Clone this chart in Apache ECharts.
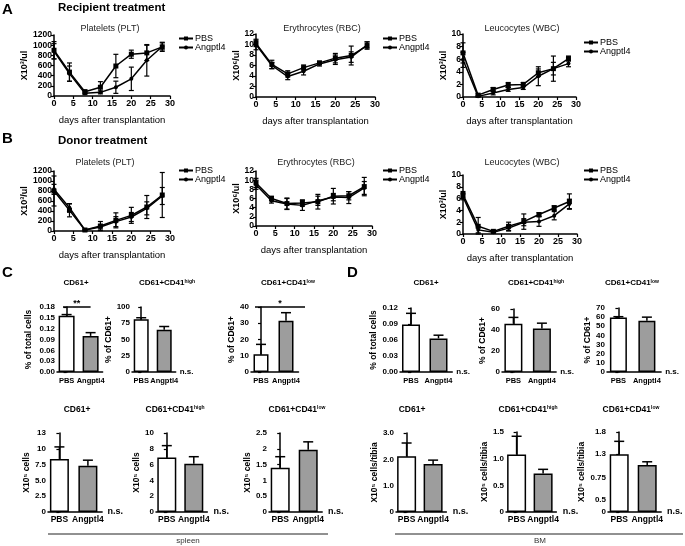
<!DOCTYPE html>
<html>
<head>
<meta charset="utf-8">
<script src="https://cdn.jsdelivr.net/npm/echarts@6/dist/echarts.min.js"></script>
<style>
  html, body { margin: 0; background: #fff; }
  #chart { width: 685px; height: 546px; }
</style>
</head>
<body>
<div id="chart"></div>
<script>
  // days after transplantation
  const days = [0, 4, 8, 12, 16, 20, 24, 28];

  // A - recipient treatment (mean, sem)
  const recPltPbs = [900, 470, 85, 172, 590, 822, 848, 967];
  const recPltPbsSem = [170, 180, 30, 110, 230, 80, 150, 90];
  const recPltAng = [880, 440, 52, 72, 172, 338, 702, 975];
  const recPltAngSem = [150, 150, 25, 30, 120, 230, 310, 70];
  const recRbcPbs = [10.2, 6.2, 4.4, 5.6, 6.5, 7.4, 7.9, 9.8];
  const recRbcPbsSem = [0.6, 0.8, 0.6, 0.5, 0.3, 0.9, 1.8, 0.7];
  const recRbcAng = [10.0, 6.0, 3.9, 4.9, 6.3, 7.1, 7.6, 9.9];
  const recRbcAngSem = [1.0, 0.6, 0.6, 0.7, 0.4, 0.9, 1.0, 0.6];
  const recWbcPbs = [7.0, 0.3, 1.2, 1.9, 2.0, 3.85, 4.5, 6.1];
  const recWbcPbsSem = [1.6, 0.2, 0.3, 0.4, 0.3, 0.6, 2.0, 0.4];
  const recWbcAng = [5.9, 0.1, 0.64, 1.2, 1.5, 3.3, 4.5, 5.3];
  const recWbcAngSem = [1.2, 0.1, 0.3, 0.3, 0.3, 1.5, 1.0, 0.5];

  // B - donor treatment
  const donPltPbs = [800, 413, 20, 100, 213, 313, 480, 720];
  const donPltPbsSem = [300, 130, 15, 90, 150, 160, 230, 450];
  const donPltAng = [833, 467, 20, 80, 187, 280, 453, 700];
  const donPltAngSem = [100, 80, 15, 40, 100, 90, 130, 170];
  const donRbcPbs = [9.4, 6.0, 4.9, 5.0, 5.3, 6.5, 6.6, 8.6];
  const donRbcPbsSem = [1.0, 0.5, 1.2, 0.7, 1.6, 1.7, 0.9, 2.0];
  const donRbcAng = [9.0, 5.5, 4.8, 4.5, 5.5, 6.3, 6.2, 8.3];
  const donRbcAngSem = [1.0, 0.5, 1.2, 1.1, 1.0, 0.8, 1.3, 1.4];
  const donWbcPbs = [6.7, 1.3, 0.45, 1.3, 2.1, 3.3, 4.4, 5.5];
  const donWbcPbsSem = [0.5, 1.5, 0.1, 0.7, 1.3, 0.3, 0.4, 1.3];
  const donWbcAng = [6.3, 0.7, 0.3, 1.0, 2.0, 2.1, 3.1, 5.1];
  const donWbcAngSem = [0.5, 0.5, 0.1, 0.5, 0.6, 0.8, 0.7, 0.8];

  // C / D bar charts: [PBS, Angptl4]
  const barCats = ['PBS', 'Angptl4'];
  const cCd61Pct = [0.156, 0.100], cCd61PctSem = [0.003, 0.009];
  const cHighPct = [81, 65], cHighPctSem = [2.5, 5];
  const cLowPct = [11, 31.5], cLowPctSem = [6, 5];
  const dCd61Pct = [0.089, 0.063], dCd61PctSem = [0.021, 0.006];
  const dHighPct = [46, 41.5], dHighPctSem = [6, 5];
  const dLowPct = [59.5, 56], dLowPctSem = [1, 4];
  const cCd61Num = [8.4, 7.3], cCd61NumSem = [1.9, 0.9];
  const cHighNum = [6.9, 6.1], cHighNumSem = [1.5, 0.9];
  const cLowNum = [1.4, 1.97], cLowNumSem = [0.35, 0.25];
  const dCd61Num = [2.12, 1.82], dCd61NumSem = [0.5, 0.15];
  const dHighNum = [1.08, 0.72], dHighNumSem = [0.34, 0.08];
  const dLowNum = [1.3, 1.06], dLowNumSem = [0.29, 0.07];

  // y tick values and their printed labels
  const cCd61PctTicks = [0, 0.03, 0.06, 0.09, 0.12, 0.15, 0.18];
  const cCd61PctLabels = ['0.00', '0.03', '0.06', '0.09', '0.12', '0.15', '0.18'];
  const cHighPctTicks = [0, 25, 50, 75, 100];
  const cHighPctLabels = ['0', '25', '50', '75', '100'];
  const cLowPctTicks = [0, 10, 20, 30, 40];
  const cLowPctLabels = ['0', '10', '20', '30', '40'];
  const dCd61PctTicks = [0, 0.03, 0.06, 0.09, 0.12];
  const dCd61PctLabels = ['0.00', '0.03', '0.06', '0.09', '0.12'];
  const dHighPctTicks = [0, 20, 40, 60];
  const dHighPctLabels = ['0', '20', '40', '60'];
  const dLowPctTicks = [0, 10, 20, 30, 40, 50, 60, 70];
  const dLowPctLabels = ['0', '10', '20', '30', '40', '50', '60', '70'];
  const cCd61NumTicks = [0, 2.5, 5, 7.5, 10, 12.5];
  const cCd61NumLabels = ['0', '2.5', '5.0', '7.5', '10', '13'];
  const cHighNumTicks = [0, 2, 4, 6, 8, 10];
  const cHighNumLabels = ['0', '2', '4', '6', '8', '10'];
  const cLowNumTicks = [0, 0.5, 1, 1.5, 2, 2.5];
  const cLowNumLabels = ['0', '0.5', '1', '1.5', '2', '2.5'];
  const dCd61NumTicks = [0, 1, 2, 3];
  const dCd61NumLabels = ['0', '1.0', '2.0', '3.0'];
  const dHighNumTicks = [0, 0.5, 1, 1.5];
  const dHighNumLabels = ['0', '0.5', '1.0', '1.5'];
  const dLowNumTicks = [0, 0.27, 0.78, 1.3, 1.8];
  const dLowNumLabels = ['0', '0.5', '0.75', '1.3', '1.8'];

  const FONT = '"Liberation Sans", Arial, sans-serif';
  const BLACK = '#000';

  const grids = [], xAxes = [], yAxes = [], series = [], legends = [], graphics = [];

  function txt(text, x, y, size, weight, align, extra) {
    graphics.push({
      type: 'text', x: x, y: y, silent: true,
      style: Object.assign({
        text: text, fill: BLACK, align: align || 'left', verticalAlign: 'middle',
        fontSize: size, fontWeight: weight || 'normal', fontFamily: FONT
      }, extra || {})
    });
  }

  function hline(x1, x2, y) {
    graphics.push({
      type: 'line', silent: true,
      shape: { x1: x1, y1: y, x2: x2, y2: y },
      style: { stroke: '#222', lineWidth: 1 }
    });
  }

  function errLine(params, api) {
    const x = api.value(0), m = api.value(1), s = api.value(2);
    const hi = api.coord([x, m + s]);
    const lo = api.coord([x, Math.max(0, m - s)]);
    const w = 2.5, st = { stroke: BLACK, lineWidth: 1.2 };
    return {
      type: 'group', children: [
        { type: 'line', shape: { x1: hi[0], y1: hi[1], x2: lo[0], y2: lo[1] }, style: st },
        { type: 'line', shape: { x1: hi[0] - w, y1: hi[1], x2: hi[0] + w, y2: hi[1] }, style: st },
        { type: 'line', shape: { x1: lo[0] - w, y1: lo[1], x2: lo[0] + w, y2: lo[1] }, style: st }
      ]
    };
  }

  function errBar(params, api) {
    const x = api.value(0), v = api.value(1), s = api.value(2);
    const a = api.coord([x, v]), b = api.coord([x, v + s]);
    const w = 5, st = { stroke: BLACK, lineWidth: 1.5 };
    return {
      type: 'group', children: [
        { type: 'line', shape: { x1: a[0], y1: a[1], x2: b[0], y2: b[1] }, style: st },
        { type: 'line', shape: { x1: b[0] - w, y1: b[1], x2: b[0] + w, y2: b[1] }, style: st }
      ]
    };
  }

  const axisLine = { lineStyle: { color: BLACK, width: 1.5 } };
  const axisTick = { length: 3, lineStyle: { color: BLACK, width: 1.2 } };

  function lineChart(c) {
    const i = grids.length;
    grids.push({ left: c.left, top: c.top, width: c.width, height: c.height });
    xAxes.push({
      gridIndex: i, type: 'value', min: 0, max: 30, interval: 5,
      name: 'days after transplantation', nameLocation: 'middle', nameGap: 19,
      nameTextStyle: { color: BLACK, fontSize: 9.5, fontFamily: FONT },
      axisLine: axisLine, axisTick: axisTick, splitLine: { show: false },
      axisLabel: { color: BLACK, fontWeight: 'bold', fontSize: 9, margin: 3, fontFamily: FONT }
    });
    yAxes.push({
      gridIndex: i, type: 'value', min: 0, max: c.yMax, interval: c.yStep,
      name: c.yName, nameLocation: 'middle', nameGap: c.nameGap,
      nameTextStyle: { color: BLACK, fontSize: 9, fontWeight: 'bold', fontFamily: FONT },
      axisLine: Object.assign({ show: true }, axisLine), axisTick: Object.assign({ show: true }, axisTick),
      splitLine: { show: false },
      axisLabel: { color: BLACK, fontWeight: 'bold', fontSize: 8.5, margin: 2, fontFamily: FONT,
        formatter: v => String(v) }
    });
    const groups = [
      { name: 'PBS', data: c.pbs, sem: c.pbsSem, symbol: 'rect', size: 5 },
      { name: 'Angptl4', data: c.ang, sem: c.angSem, symbol: 'circle', size: 4 }
    ];
    groups.forEach(g => {
      series.push({
        type: 'line', name: g.name, xAxisIndex: i, yAxisIndex: i,
        data: days.map((d, k) => [d, g.data[k]]),
        symbol: g.symbol, symbolSize: g.size,
        lineStyle: { color: BLACK, width: 1.5 },
        itemStyle: { color: BLACK }, animation: false
      });
      series.push({
        type: 'custom', name: g.name + ' err', xAxisIndex: i, yAxisIndex: i,
        data: days.map((d, k) => [d, g.data[k], g.sem[k]]),
        renderItem: errLine, silent: true, z: 3, animation: false
      });
    });
    legends.push({
      left: c.legendX, top: c.legendY, orient: 'vertical', itemGap: 0, padding: 0,
      itemWidth: 14, itemHeight: 5, selectedMode: false,
      data: ['PBS', 'Angptl4'],
      textStyle: { color: BLACK, fontSize: 9, lineHeight: 7.5, fontFamily: FONT, padding: [0, 0, 0, -3] }
    });
    txt(c.title, c.titleX, c.titleY, 9, 'normal', 'center', { fill: '#222' });
  }

  function barChart(c) {
    const i = grids.length;
    grids.push({ left: c.left, top: c.top, width: c.dist * 1.9, height: c.height });
    const lblSize = c.row === 1 ? 7.5 : 8.5;
    xAxes.push({
      gridIndex: i, type: 'value', min: -0.4, max: 1.5,
      name: c.ns ? 'n.s.' : '', nameLocation: 'end', nameGap: 4,
      nameTextStyle: { color: BLACK, fontSize: c.row === 1 ? 8 : 9, fontWeight: 'bold', fontFamily: FONT },
      axisLine: axisLine, axisTick: { show: false }, splitLine: { show: false },
      axisLabel: {
        color: BLACK, fontWeight: 'bold', fontSize: lblSize, margin: c.row === 1 ? 5 : 3, fontFamily: FONT,
        hideOverlap: false, customValues: [0, 1], formatter: v => barCats[Math.round(v)]
      }
    });
    yAxes.push({
      gridIndex: i, type: 'value', min: 0, max: c.ticks[c.ticks.length - 1],
      name: c.yName, nameLocation: 'middle', nameGap: c.nameGap,
      nameTextStyle: { color: BLACK, fontSize: 8.5, fontWeight: 'bold', fontFamily: FONT },
      axisLine: Object.assign({ show: true }, axisLine),
      axisTick: Object.assign({ show: true, customValues: c.ticks }, axisTick),
      splitLine: { show: false },
      axisLabel: {
        color: BLACK, fontWeight: 'bold', fontSize: 8, margin: 2, fontFamily: FONT,
        customValues: c.ticks,
        formatter: v => {
          const k = c.ticks.findIndex(t => Math.abs(t - v) < 1e-6);
          return k >= 0 ? c.labels[k] : '';
        }
      }
    });
    series.push({
      type: 'bar', name: 'bars', xAxisIndex: i, yAxisIndex: i, barWidth: c.barW,
      data: [
        { value: [0, c.vals[0]], itemStyle: { color: '#fff' } },
        { value: [1, c.vals[1]], itemStyle: { color: '#9d9d9d' } }
      ],
      itemStyle: { borderColor: BLACK, borderWidth: 1.5 }, animation: false
    });
    series.push({
      type: 'custom', name: 'bar err', xAxisIndex: i, yAxisIndex: i,
      data: [[0, c.vals[0], c.sem[0]], [1, c.vals[1], c.sem[1]]],
      renderItem: errBar, silent: true, z: 3, animation: false
    });
    if (c.sig) {
      series.push({
        type: 'custom', name: 'sig', xAxisIndex: i, yAxisIndex: i,
        data: [c.sig.span], silent: true, animation: false,
        renderItem: (p, api) => {
          const a = api.coord([api.value(0), api.value(2)]);
          const b = api.coord([api.value(1), api.value(2)]);
          return {
            type: 'group', children: [
              { type: 'line', shape: { x1: a[0], y1: a[1], x2: b[0], y2: b[1] }, style: { stroke: BLACK, lineWidth: 1.5 } },
              { type: 'text', x: (a[0] + b[0]) / 2, y: a[1] + 1,
                style: { text: c.sig.mark, align: 'center', verticalAlign: 'bottom', fill: BLACK,
                  fontSize: 9, fontWeight: 'bold', fontFamily: FONT } }
            ]
          };
        }
      });
    }
    const ts = c.row === 1 ? 8 : 8.5;
    graphics.push({
      type: 'text', x: c.titleX, y: c.titleY, silent: true,
      style: {
        text: c.title, fill: BLACK, align: 'center', verticalAlign: 'middle',
        fontSize: ts, fontWeight: 'bold', fontFamily: FONT,
        rich: { s: { fontSize: 5, fontWeight: 'bold', fontFamily: FONT, verticalAlign: 'top', fill: BLACK } }
      }
    });
  }

  // Panel A
  lineChart({ left: 54, top: 35, width: 116, height: 61, yMax: 1200, yStep: 200, yName: 'X10³/ul', nameGap: 21,
    pbs: recPltPbs, pbsSem: recPltPbsSem, ang: recPltAng, angSem: recPltAngSem,
    title: 'Platelets (PLT)', titleX: 110, titleY: 29, legendX: 178, legendY: 34 });
  lineChart({ left: 256, top: 34, width: 119, height: 63, yMax: 12, yStep: 2, yName: 'X10⁶/ul', nameGap: 12,
    pbs: recRbcPbs, pbsSem: recRbcPbsSem, ang: recRbcAng, angSem: recRbcAngSem,
    title: 'Erythrocytes (RBC)', titleX: 322, titleY: 29, legendX: 382, legendY: 34 });
  lineChart({ left: 463, top: 34, width: 113, height: 63, yMax: 10, yStep: 2, yName: 'X10³/ul', nameGap: 12,
    pbs: recWbcPbs, pbsSem: recWbcPbsSem, ang: recWbcAng, angSem: recWbcAngSem,
    title: 'Leucocytes (WBC)', titleX: 522, titleY: 29, legendX: 583, legendY: 38 });

  // Panel B
  lineChart({ left: 54, top: 171, width: 116, height: 60, yMax: 1200, yStep: 200, yName: 'X10³/ul', nameGap: 21,
    pbs: donPltPbs, pbsSem: donPltPbsSem, ang: donPltAng, angSem: donPltAngSem,
    title: 'Platelets (PLT)', titleX: 105, titleY: 163, legendX: 178, legendY: 166 });
  lineChart({ left: 256, top: 171, width: 116, height: 55, yMax: 12, yStep: 2, yName: 'X10⁶/ul', nameGap: 12,
    pbs: donRbcPbs, pbsSem: donRbcPbsSem, ang: donRbcAng, angSem: donRbcAngSem,
    title: 'Erythrocytes (RBC)', titleX: 316, titleY: 163, legendX: 382, legendY: 166 });
  lineChart({ left: 463, top: 175, width: 114, height: 59, yMax: 10, yStep: 2, yName: 'X10³/ul', nameGap: 12,
    pbs: donWbcPbs, pbsSem: donWbcPbsSem, ang: donWbcAng, angSem: donWbcAngSem,
    title: 'Leucocytes (WBC)', titleX: 522, titleY: 163, legendX: 583, legendY: 166 });

  // Panel C / D, first row (% of cells)
  barChart({ row: 1, left: 57, top: 307, height: 65, dist: 24, barW: 16, nameGap: 24,
    vals: cCd61Pct, sem: cCd61PctSem, ticks: cCd61PctTicks, labels: cCd61PctLabels,
    yName: '% of total cells', title: 'CD61+', titleX: 76, titleY: 283,
    sig: { span: [-0.15, 1.0, 0.18], mark: '**' } });
  barChart({ row: 1, left: 132, top: 307, height: 65, dist: 23, barW: 15, nameGap: 18, ns: true,
    vals: cHighPct, sem: cHighPctSem, ticks: cHighPctTicks, labels: cHighPctLabels,
    yName: '% of CD61+', title: 'CD61+CD41{s|high}', titleX: 167, titleY: 283 });
  barChart({ row: 1, left: 251, top: 307, height: 65, dist: 25, barW: 15, nameGap: 14,
    vals: cLowPct, sem: cLowPctSem, ticks: cLowPctTicks, labels: cLowPctLabels,
    yName: '% of CD61+', title: 'CD61+CD41{s|low}', titleX: 288, titleY: 283,
    sig: { span: [-0.24, 1.76, 40], mark: '*' } });
  barChart({ row: 1, left: 400, top: 308, height: 64, dist: 27.5, barW: 18, nameGap: 22, ns: true,
    vals: dCd61Pct, sem: dCd61PctSem, ticks: dCd61PctTicks, labels: dCd61PctLabels,
    yName: '% of total cells', title: 'CD61+', titleX: 426, titleY: 283 });
  barChart({ row: 1, left: 502, top: 309, height: 63, dist: 28.5, barW: 18, nameGap: 14, ns: true,
    vals: dHighPct, sem: dHighPctSem, ticks: dHighPctTicks, labels: dHighPctLabels,
    yName: '% of CD61+', title: 'CD61+CD41{s|high}', titleX: 536, titleY: 283 });
  barChart({ row: 1, left: 607, top: 308, height: 64, dist: 28.5, barW: 17, nameGap: 14, ns: true,
    vals: dLowPct, sem: dLowPctSem, ticks: dLowPctTicks, labels: dLowPctLabels,
    yName: '% of CD61+', title: 'CD61+CD41{s|low}', titleX: 632, titleY: 283 });

  // second row (cell numbers)
  barChart({ row: 2, left: 48, top: 433, height: 79, dist: 28.5, barW: 19, nameGap: 17, ns: true,
    vals: cCd61Num, sem: cCd61NumSem, ticks: cCd61NumTicks, labels: cCd61NumLabels,
    yName: 'X10⁵ cells', title: 'CD61+', titleX: 77, titleY: 410 });
  barChart({ row: 2, left: 156, top: 433, height: 79, dist: 27, barW: 19, nameGap: 14, ns: true,
    vals: cHighNum, sem: cHighNumSem, ticks: cHighNumTicks, labels: cHighNumLabels,
    yName: 'X10⁵ cells', title: 'CD61+CD41{s|high}', titleX: 175, titleY: 410 });
  barChart({ row: 2, left: 269, top: 433, height: 79, dist: 28, barW: 19, nameGap: 17, ns: true,
    vals: cLowNum, sem: cLowNumSem, ticks: cLowNumTicks, labels: cLowNumLabels,
    yName: 'X10⁵ cells', title: 'CD61+CD41{s|low}', titleX: 297, titleY: 410 });
  barChart({ row: 2, left: 396, top: 433, height: 79, dist: 26.5, barW: 19, nameGap: 17, ns: true,
    vals: dCd61Num, sem: dCd61NumSem, ticks: dCd61NumTicks, labels: dCd61NumLabels,
    yName: 'X10⁵ cells/tibia', title: 'CD61+', titleX: 412, titleY: 410 });
  barChart({ row: 2, left: 506, top: 432, height: 80, dist: 26.5, barW: 19, nameGap: 17, ns: true,
    vals: dHighNum, sem: dHighNumSem, ticks: dHighNumTicks, labels: dHighNumLabels,
    yName: 'X10⁵ cells/tibia', title: 'CD61+CD41{s|high}', titleX: 528, titleY: 410 });
  barChart({ row: 2, left: 608, top: 432, height: 80, dist: 28, barW: 19, nameGap: 21, ns: true,
    vals: dLowNum, sem: dLowNumSem, ticks: dLowNumTicks, labels: dLowNumLabels,
    yName: 'X10⁵ cells/tibia', title: 'CD61+CD41{s|low}', titleX: 631, titleY: 410 });

  // panel letters and headings
  txt('A', 2, 10, 15, 'bold');
  txt('Recipient treatment', 58, 8, 11.5, 'bold');
  txt('B', 2, 139, 15, 'bold');
  txt('Donor treatment', 58, 141, 11.5, 'bold');
  txt('C', 2, 273, 15, 'bold');
  txt('D', 347, 273, 15, 'bold');

  // tissue brackets
  hline(48, 328, 534);
  txt('spleen', 188, 541, 8, 'normal', 'center', { fill: '#333' });
  hline(395, 683, 534);
  txt('BM', 540, 541, 8, 'normal', 'center', { fill: '#333' });

  const chart = echarts.init(document.getElementById('chart'), null, { renderer: 'canvas' });
  chart.setOption({
    backgroundColor: '#fff',
    animation: false,
    textStyle: { fontFamily: FONT },
    grid: grids,
    xAxis: xAxes,
    yAxis: yAxes,
    legend: legends,
    series: series,
    graphic: graphics
  });
</script>
</body>
</html>
